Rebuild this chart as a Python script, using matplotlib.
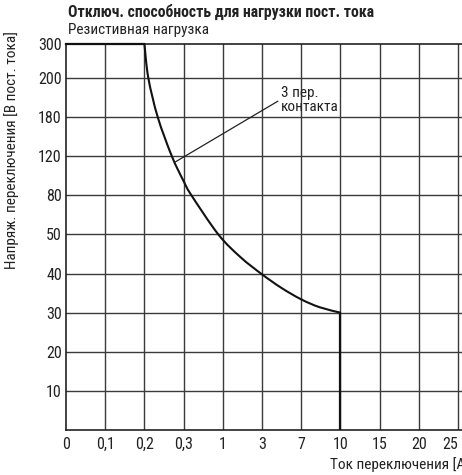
import numpy as np
import matplotlib
matplotlib.use("Agg")
import matplotlib.pyplot as plt
from matplotlib import font_manager
from matplotlib.path import Path
from matplotlib.patches import PathPatch

# Axis categories (both axes use evenly spaced, non-linear steps)
current_ticks = [0, 0.1, 0.2, 0.3, 1, 3, 7, 10, 15, 20, 25]
current_labels = ["0", "0,1", "0,2", "0,3", "1", "3", "7", "10", "15", "20", "25"]
voltage_ticks = [10, 20, 30, 40, 50, 80, 120, 180, 200, 300]
voltage_labels = ["10", "20", "30", "40", "50", "80", "120", "180", "200", "300"]

# Load limit curve for 3 series contacts, current [A] vs voltage [V DC]
curve_current = [0, 0.2, 0.21, 0.234, 0.27, 0.3, 0.44, 0.92, 1.9, 3, 5, 7, 8.4, 10, 10]
curve_voltage = [300, 300, 200, 180, 120, 94.5, 80, 50, 44.2, 39.8, 36.3, 33.4, 31.4, 30, 0]

# Leader line for the curve label (current, voltage)
label_point = (0.278, 114)
label_anchor = (4.5, 189)


def pick_family() -> list[str]:
    names = {f.name for f in font_manager.fontManager.ttflist}
    for name in ["Roboto Condensed", "Liberation Sans Narrow", "Roboto"]:
        if name in names:
            return [name, "DejaVu Sans"]
    return ["DejaVu Sans"]


plt.rcParams["font.family"] = pick_family()

x_index = np.arange(len(current_ticks))
# 300 V sits on the upper frame, a bit closer than the regular step
y_scale_values = [0] + voltage_ticks
y_scale_pos = np.array([0, 1, 2, 3, 4, 5, 6, 7, 8, 9, 9.87])


def x_pos(value):
    return np.interp(value, current_ticks, x_index)


def y_pos(value):
    return np.interp(value, y_scale_values, y_scale_pos)


def smooth_path(xs, ys) -> Path:
    """Catmull-Rom through the points, drawn as cubic Bezier segments"""
    pts = np.column_stack([xs, ys])
    n = len(pts)
    verts = [pts[0]]
    codes = [Path.MOVETO]
    for i in range(n - 1):
        p0 = pts[i - 1] if i > 0 else pts[i]
        p1 = pts[i]
        p2 = pts[i + 1]
        p3 = pts[i + 2] if i + 2 < n else pts[i + 1]
        verts += [p1 + (p2 - p0) / 6, p2 - (p3 - p1) / 6, p2]
        codes += [Path.CURVE4] * 3
    return Path(verts, codes)


fig = plt.figure(figsize=(4.62, 4.75), dpi=100)
ax = fig.add_axes([66 / 462, 45 / 475, 396 / 462, 386 / 475])

ax.set_xlim(0, 10.1)
ax.set_ylim(0, 9.87)

grid_color = "#3a3a3a"
for xv in current_ticks[1:]:
    ax.axvline(x_pos(xv), color=grid_color, lw=1.0, zorder=1)
for yv in voltage_ticks[:-1]:
    ax.axhline(y_pos(yv), color=grid_color, lw=1.0, zorder=1)

cx = x_pos(curve_current)
cy = y_pos(curve_voltage)
line_color = "#111111"
# flat part along 300 V, then the falling curve, then the drop at 10 A
ax.plot(cx[:2], cy[:2], color=line_color, lw=1.6, zorder=3, clip_on=False)
ax.add_patch(PathPatch(smooth_path(cx[1:-1], cy[1:-1]), facecolor="none",
                       edgecolor=line_color, lw=1.5, zorder=3))
ax.plot(cx[-2:], cy[-2:], color=line_color, lw=1.6, zorder=3)

ax.annotate("3 пер.\nконтакта",
            xy=(x_pos(label_point[0]), y_pos(label_point[1])),
            xytext=(x_pos(label_anchor[0]) + 0.1, y_pos(label_anchor[1])),
            ha="left", va="center", fontsize=11, linespacing=1.0,
            color="#222222",
            arrowprops=dict(arrowstyle="-", color="#222222", lw=0.9,
                            shrinkA=0, shrinkB=0, relpos=(0, 0.5)))

ax.set_xticks(x_pos(current_ticks))
ax.set_xticklabels(current_labels)
ax.set_yticks(y_pos(voltage_ticks))
ax.set_yticklabels(voltage_labels)
ax.tick_params(length=0, labelsize=11.5, colors="#222222")
ax.tick_params(axis="y", pad=3)
ax.tick_params(axis="x", pad=5)
ax.get_xticklabels()[-1].set_horizontalalignment("right")

ax.spines["right"].set_visible(False)
for side in ["left", "bottom", "top"]:
    ax.spines[side].set_color("#222222")
    ax.spines[side].set_linewidth(1.2)

fig.text(68 / 462, 1 - 12 / 475, "Отключ. способность для нагрузки пост. тока",
         fontsize=11.3, fontweight="bold", va="center", ha="left", color="#222222")
fig.text(68 / 462, 1 - 30 / 475, "Резистивная нагрузка",
         fontsize=11, va="center", ha="left", color="#222222")
fig.text(12 / 462, 1 - 150 / 475, "Напряж. переключения [В пост. тока]",
         fontsize=11, rotation=90, va="center", ha="center", color="#222222")
fig.text(330 / 462, 1 - 465 / 475, "Ток переключения [А]",
         fontsize=11, va="center", ha="left", color="#222222")

fig.savefig("out.png", dpi=100)
plt.close(fig)
